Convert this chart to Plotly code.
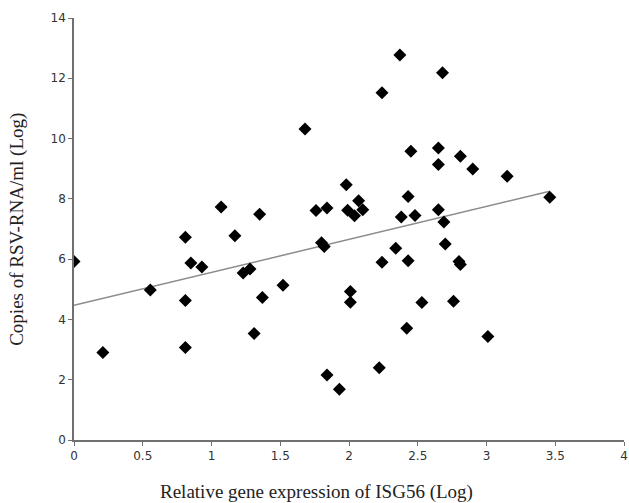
import plotly.graph_objects as go

isg56 = [0.00, 0.21, 0.555, 0.81, 0.81, 0.81, 0.85, 0.93, 1.07, 1.17, 1.23, 1.28, 1.31, 1.35,
         1.37, 1.52, 1.68, 1.76, 1.80, 1.82, 1.84, 1.84, 1.93, 1.98, 1.99, 2.01, 2.01, 2.04,
         2.07, 2.10, 2.22, 2.24, 2.24, 2.34, 2.37, 2.38, 2.42, 2.43, 2.43, 2.45, 2.48, 2.53,
         2.65, 2.65, 2.65, 2.68, 2.69, 2.70, 2.76, 2.80, 2.81, 2.81, 2.90, 3.01, 3.15, 3.46]
rsv = [5.92, 2.90, 4.98, 6.73, 4.63, 3.07, 5.87, 5.74, 7.73, 6.78, 5.54, 5.67, 3.53, 7.49,
       4.73, 5.13, 10.32, 7.61, 6.54, 6.42, 7.70, 2.16, 1.68, 8.47, 7.62, 4.93, 4.57, 7.44,
       7.94, 7.64, 2.40, 5.90, 11.52, 6.36, 12.77, 7.40, 3.71, 5.95, 8.08, 9.58, 7.45, 4.56,
       9.69, 9.14, 7.64, 12.18, 7.23, 6.50, 4.60, 5.92, 5.82, 9.41, 8.99, 3.43, 8.75, 8.05]

trend_x = [0.0, 3.46]
trend_y = [4.47, 8.25]

x_ticks = [0, 0.5, 1, 1.5, 2, 2.5, 3, 3.5, 4]
x_labels = ["0", "0.5", "1", "1.5", "2", "2.5", "3", "3.5", "4"]
y_ticks = [0, 2, 4, 6, 8, 10, 12, 14]

fig = go.Figure()
fig.add_trace(go.Scatter(x=trend_x, y=trend_y, mode="lines",
                         line=dict(color="#8c8c8c", width=1.5), showlegend=False))
fig.add_trace(go.Scatter(x=isg56, y=rsv, mode="markers",
                         marker=dict(symbol="diamond", size=10, color="black"),
                         showlegend=False))

axis_common = dict(showgrid=False, zeroline=False, showline=True, linecolor="#707070",
                   linewidth=1.5, ticks="outside", ticklen=4, tickcolor="#707070",
                   automargin=False,
                   tickfont=dict(family="DejaVu Sans", size=12, color="#333333"))
fig.update_xaxes(range=[0, 4], tickvals=x_ticks, ticktext=x_labels, **axis_common)
fig.update_yaxes(range=[0, 14], tickvals=y_ticks, **axis_common)

title_font = dict(family="Liberation Serif", size=19, color="#222222")
fig.add_annotation(text="Relative gene expression of ISG56 (Log)", xref="paper", yref="paper",
                   x=0.44, y=-0.123, xanchor="center", yanchor="middle",
                   showarrow=False, font=title_font)
fig.add_annotation(text="Copies of RSV-RNA/ml (Log)", xref="paper", yref="paper",
                   x=-0.104, y=0.5, xanchor="center", yanchor="middle", textangle=-90,
                   showarrow=False, font=title_font)
fig.update_layout(width=629, height=503, plot_bgcolor="white", paper_bgcolor="white",
                  margin=dict(l=74, r=5, t=18, b=63))
fig.write_html("out.html", config={"displayModeBar": False},
               post_script="document.body.style.margin='0';")
